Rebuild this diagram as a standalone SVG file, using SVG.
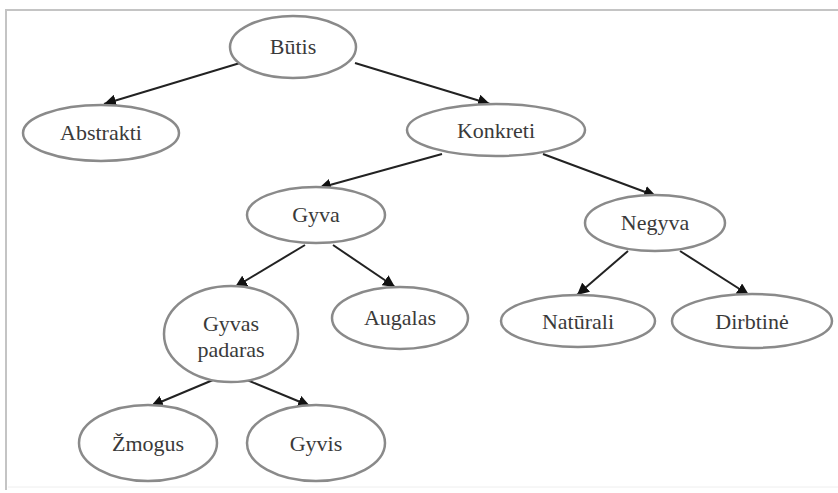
<svg xmlns="http://www.w3.org/2000/svg" width="838" height="493" viewBox="0 0 838 493">
<style>
.n ellipse{fill:#fff;stroke:#8a8a8a;stroke-width:2.5}
text{font-family:'Times New Roman','Liberation Serif','DejaVu Serif',Times,serif;font-size:22px;fill:#3a3a3a;text-anchor:middle}
.e line{stroke:#222;stroke-width:2;marker-end:url(#ah)}
</style>
<defs>
<marker id="ah" viewBox="0 0 10 10" refX="10" refY="5" markerWidth="6" markerHeight="6" orient="auto" markerUnits="strokeWidth">
<path d="M0,0 L10,5 L0,10 z" fill="#111"/>
</marker>
</defs>
<rect x="0" y="0" width="838" height="493" fill="#fff"/>
<path d="M6,490 L6,10 L838,10" fill="none" stroke="#c4c4c4" stroke-width="2"/>
<line x1="8" y1="487" x2="838" y2="487" stroke="#eee" stroke-width="1"/>
<g class="e" id="connectors">
<line x1="240" y1="63" x2="104" y2="104"/>
<line x1="355" y1="63" x2="490" y2="104"/>
<line x1="442" y1="154" x2="319" y2="188"/>
<line x1="543" y1="154" x2="656" y2="196"/>
<line x1="305" y1="245" x2="235" y2="287"/>
<line x1="333" y1="245" x2="395" y2="287"/>
<line x1="628" y1="251" x2="577" y2="295"/>
<line x1="680" y1="251" x2="749" y2="295"/>
<line x1="213" y1="380" x2="151" y2="406"/>
<line x1="247" y1="380" x2="310" y2="406"/>
</g>
<g class="n" id="butis"><ellipse cx="293" cy="47" rx="63" ry="31"/><text x="293" y="54">Būtis</text></g>
<g class="n" id="abstrakti"><ellipse cx="101" cy="133" rx="78" ry="28"/><text x="101" y="140">Abstrakti</text></g>
<g class="n" id="konkreti"><ellipse cx="496" cy="130" rx="89" ry="26"/><text x="496" y="138">Konkreti</text></g>
<g class="n" id="gyva"><ellipse cx="316" cy="215" rx="69" ry="28"/><text x="316" y="222">Gyva</text></g>
<g class="n" id="negyva"><ellipse cx="655" cy="223" rx="70" ry="28"/><text x="655" y="230">Negyva</text></g>
<g class="n" id="gyvas-padaras"><ellipse cx="231" cy="334" rx="67" ry="48"/><text x="231" y="331">Gyvas</text><text x="231" y="357">padaras</text></g>
<g class="n" id="augalas"><ellipse cx="400" cy="318" rx="68" ry="31"/><text x="400" y="325">Augalas</text></g>
<g class="n" id="naturali"><ellipse cx="578" cy="321" rx="77" ry="26"/><text x="578" y="329">Natūrali</text></g>
<g class="n" id="dirbtine"><ellipse cx="752" cy="321" rx="80" ry="27"/><text x="752" y="329">Dirbtinė</text></g>
<g class="n" id="zmogus"><ellipse cx="148" cy="443" rx="69" ry="38"/><text x="148" y="451">Žmogus</text></g>
<g class="n" id="gyvis"><ellipse cx="316" cy="443" rx="69" ry="38"/><text x="316" y="451">Gyvis</text></g>
</svg>
